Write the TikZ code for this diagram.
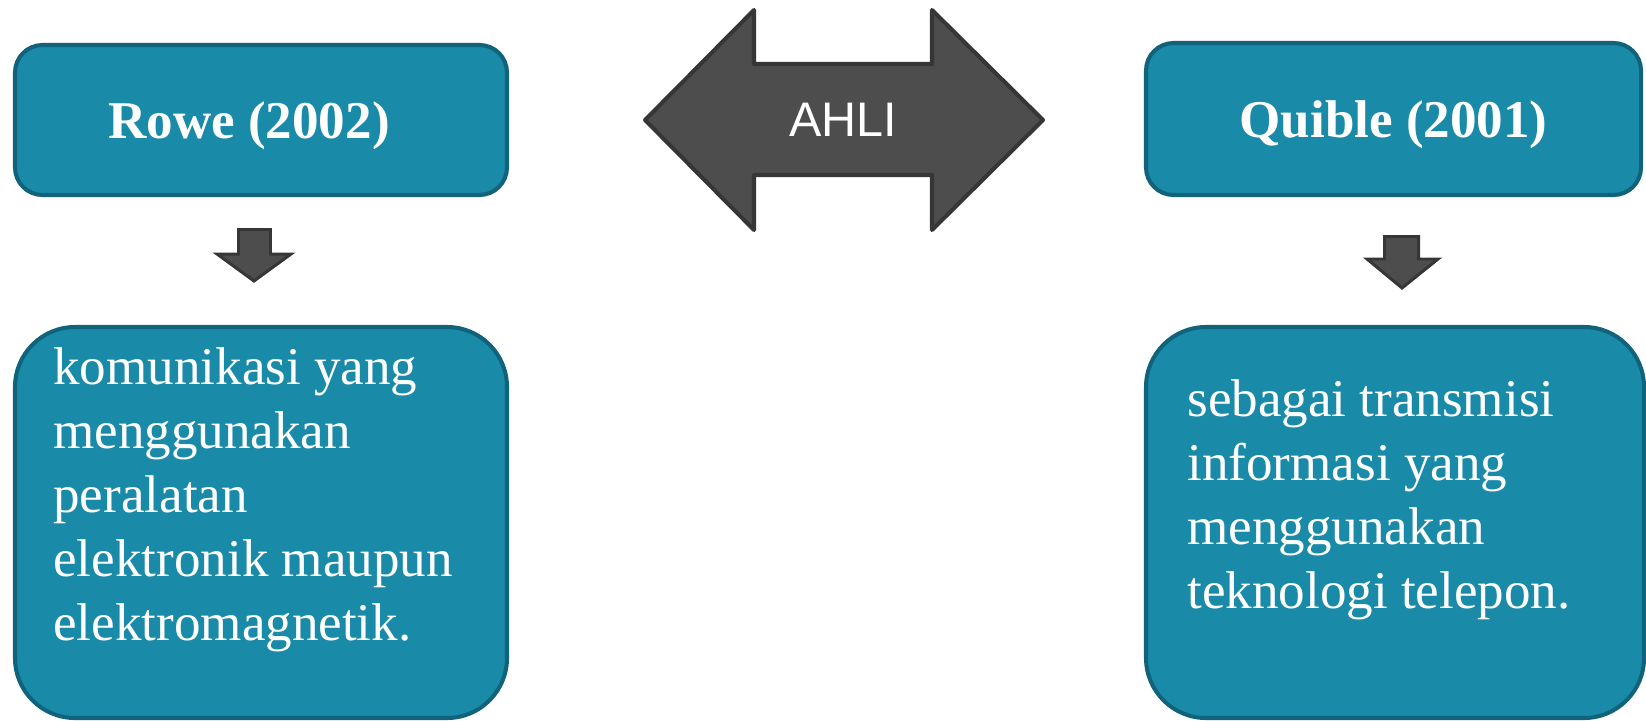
\documentclass[tikz,border=0pt]{standalone}
\usepackage{fontspec}
\setmainfont{Liberation Serif}
\setsansfont{Liberation Sans}
\usepackage{tikz}
\usetikzlibrary{arrows,calc}
\definecolor{box_teal}{RGB}{25, 138, 167}
\definecolor{box_dark}{RGB}{16, 99, 122}
\definecolor{arr_grey}{RGB}{77, 77, 77}
\definecolor{arr_dark}{RGB}{54, 54, 54}
\tikzstyle{tb}=[rectangle,rounded corners=0.55cm,fill=box_teal,draw=box_dark,
  line width=2.3pt,minimum width=9.84cm,minimum height=3cm,text=white,
  font=\bfseries\fontsize{30.2}{36}\selectfont,text depth=0pt]
\tikzstyle{bb}=[rectangle,rounded corners=1.2cm,fill=box_teal,draw=box_dark,
  line width=2.3pt,minimum height=7.82cm]
\tikzstyle{txt}=[align=left,inner sep=0pt,anchor=north west,text=white,
  font=\fontsize{30.2}{36.4}\selectfont]
\tikzstyle{darr}=[fill=arr_grey,draw=arr_dark,line width=2.3pt,line join=round]
\tikzstyle{sarr}=[fill=arr_grey,draw=arr_dark,line width=1.7pt,line join=miter]
\tikzstyle{none}=[]

\begin{document}
\begin{tikzpicture}
        \useasboundingbox (0, 0) rectangle (32.92, -14.4);
        \node [style=tb] (0) at (5.22, -2.4) {Rowe (2002)\hspace*{0.48cm}};
        \node [style=tb, minimum width=9.9cm, minimum height=3.04cm] (1) at (27.87, -2.38) {Quible (2001)};
        \node [style=bb, minimum width=9.84cm] (2) at (5.22, -10.45) {};
        \node [style=bb, minimum width=9.96cm] (3) at (27.9, -10.45) {};
        \node [style=txt] (4) at (1.06, -6.95) {komunikasi yang\\menggunakan\\peralatan\\elektronik maupun\\elektromagnetik.};
        \node [style=txt] (5) at (23.74, -7.59) {sebagai transmisi\\informasi yang\\menggunakan\\teknologi telepon.};
        % double arrow in the middle
        \draw [style=darr] (12.9, -2.4) -- (15.08, -0.2) -- (15.08, -1.28) -- (18.64, -1.28)
          -- (18.64, -0.2) -- (20.86, -2.4) -- (18.64, -4.6) -- (18.64, -3.5)
          -- (15.08, -3.5) -- (15.08, -4.6) -- cycle;
        \node [style=none, text=white, font=\sffamily\fontsize{27.6}{30}\selectfont] (6) at (16.86, -2.4) {AHLI};
        % small arrows under the titles
        \draw [style=sarr] (4.77, -4.59) -- (5.41, -4.59) -- (5.41, -5.08) -- (5.82, -5.08)
          -- (5.08, -5.62) -- (4.34, -5.08) -- (4.77, -5.08) -- cycle;
        \draw [style=sarr] (27.69, -4.73) -- (28.37, -4.73) -- (28.37, -5.18) -- (28.76, -5.18)
          -- (28.04, -5.76) -- (27.34, -5.18) -- (27.69, -5.18) -- cycle;
    \end{tikzpicture}
\end{document}
